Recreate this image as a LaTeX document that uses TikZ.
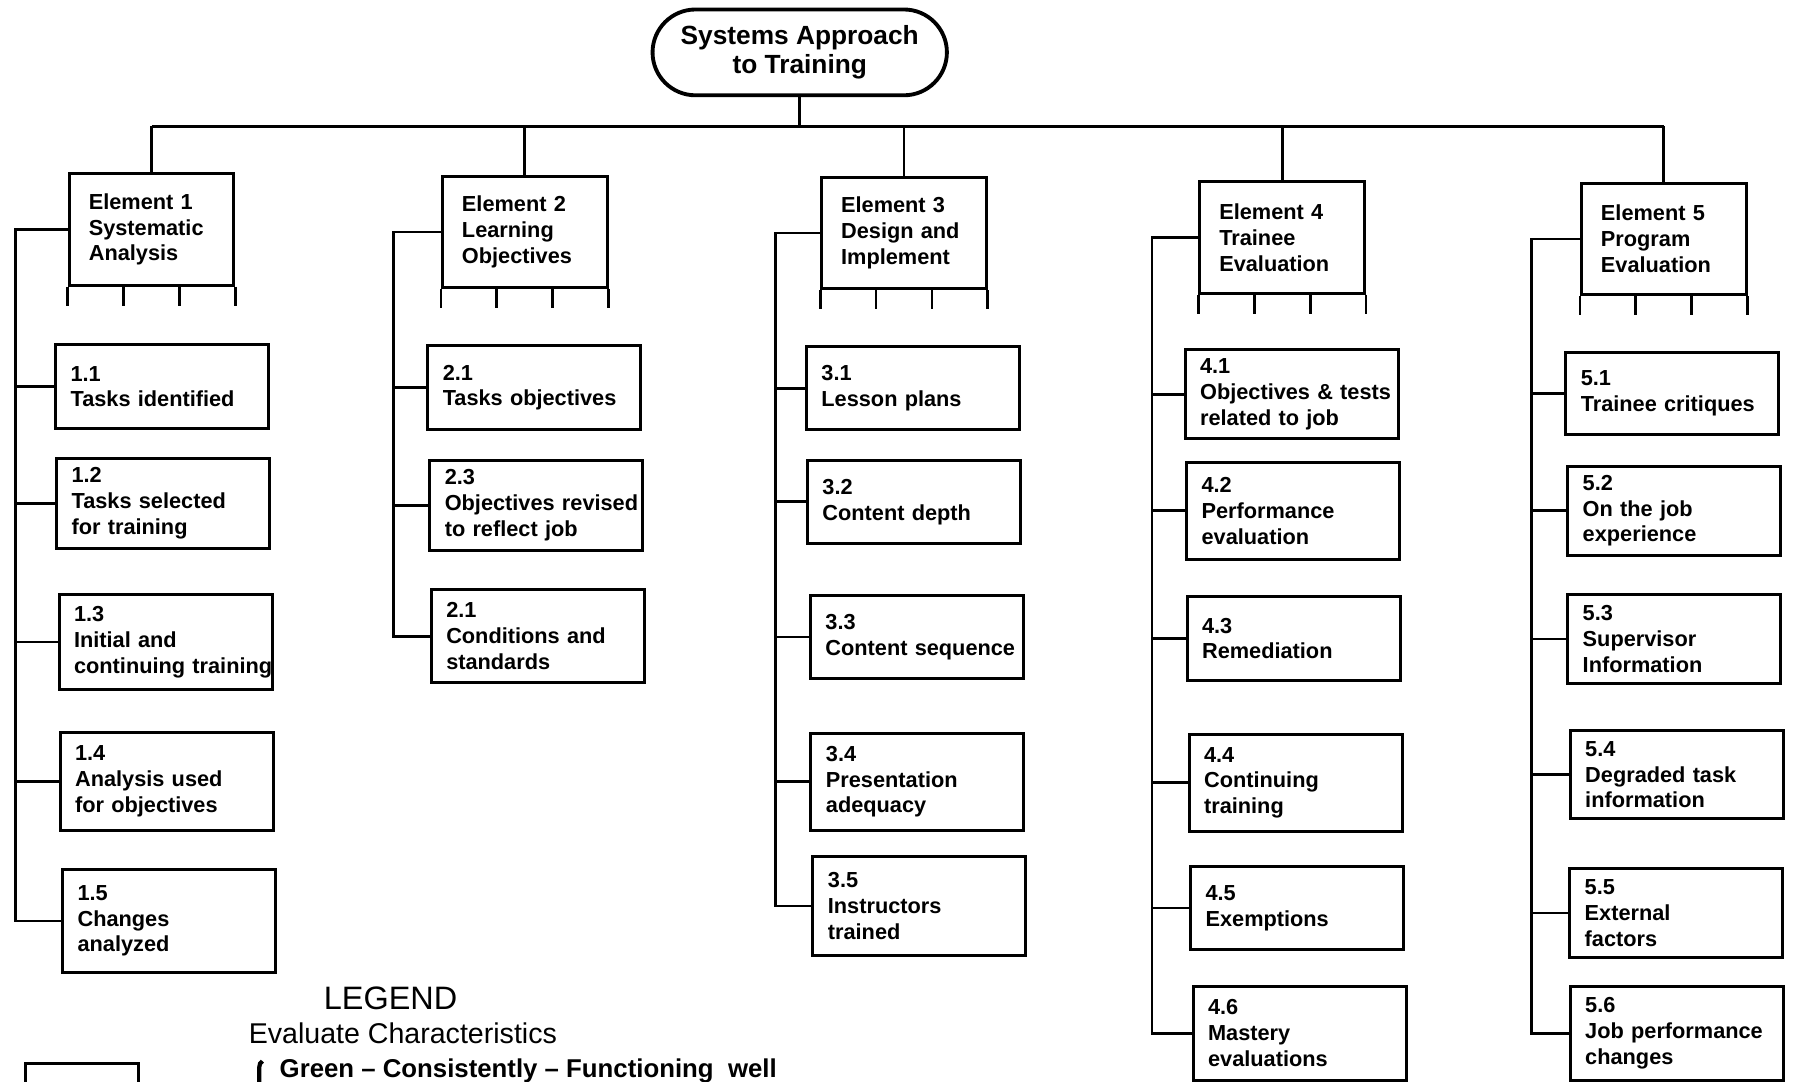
\documentclass[tikz,border=0pt]{standalone}
\usepackage{fontspec}
\setmainfont{Liberation Sans}
\usetikzlibrary{calc,decorations.pathreplacing}

\begin{document}
\begin{tikzpicture}[
    rootbox/.style={draw=black, line width=2.2pt, rounded corners=0.86cm, minimum width=5.9cm, minimum height=1.72cm, align=center, font=\bfseries\fontsize{15}{16.5}\selectfont},
    elembox/.style={draw=black, line width=1.7pt, text width=2.52cm, inner xsep=0.39cm, minimum height=2.23cm, align=left, font=\bfseries\fontsize{12.4}{14.7}\selectfont},
    subbox/.style={draw=black, line width=1.7pt, text width=3.67cm, inner xsep=0.3cm, align=left, font=\bfseries\fontsize{12.4}{14.7}\selectfont},
    link/.style={line width=1.6pt}
]

\useasboundingbox (0,0) rectangle (36,-21.67);
\clip (0,0) rectangle (36,-21.67);

% Root
\node[rootbox] (root) at (16.03,-1.05) {Systems Approach\\to Training};

% Elements
\node[elembox] (e1) at (3.04,-4.60) {Element 1\\Systematic\\Analysis};
\node[elembox] (e2) at (10.52,-4.65) {Element 2\\Learning\\Objectives};
\node[elembox] (e3) at (18.12,-4.67) {Element 3\\Design and\\Implement};
\node[elembox] (e4) at (25.70,-4.76) {Element 4\\Trainee\\Evaluation};
\node[elembox] (e5) at (33.35,-4.79) {Element 5\\Program\\Evaluation};

% Sub-elements
\node[subbox, minimum height=1.68cm] (c11) at (3.25,-7.75) {1.1\\Tasks identified};
\node[subbox, minimum height=1.81cm] (c12) at (3.27,-10.09) {1.2\\Tasks selected\\for training};
\node[subbox, minimum height=1.91cm] (c13) at (3.32,-12.87) {1.3\\Initial and\\\mbox{continuing training}};
\node[subbox, minimum height=1.97cm] (c14) at (3.34,-15.66) {1.4\\Analysis used\\for objectives};
\node[subbox, minimum height=2.07cm] (c15) at (3.39,-18.46) {1.5\\Changes\\analyzed};

\node[subbox, minimum height=1.68cm] (c21) at (10.71,-7.77) {2.1\\Tasks objectives};
\node[subbox, minimum height=1.79cm] (c22) at (10.75,-10.13) {2.3\\\mbox{Objectives revised}\\to reflect job};
\node[subbox, minimum height=1.86cm] (c23) at (10.78,-12.75) {2.1\\Conditions and\\standards};

\node[subbox, minimum height=1.65cm] (c31) at (18.30,-7.78) {3.1\\Lesson plans};
\node[subbox, minimum height=1.65cm] (c32) at (18.32,-10.06) {3.2\\Content depth};
\node[subbox, minimum height=1.65cm] (c33) at (18.38,-12.77) {3.3\\\mbox{Content sequence}};
\node[subbox, minimum height=1.95cm] (c34) at (18.39,-15.67) {3.4\\Presentation\\adequacy};
\node[subbox, minimum height=1.97cm] (c35) at (18.43,-18.16) {3.5\\Instructors\\trained};

\node[subbox, minimum height=1.79cm] (c41) at (25.89,-7.90) {4.1\\\mbox{Objectives \& tests}\\related to job};
\node[subbox, minimum height=1.93cm] (c42) at (25.92,-10.24) {4.2\\Performance\\evaluation};
\node[subbox, minimum height=1.68cm] (c43) at (25.93,-12.80) {4.3\\Remediation};
\node[subbox, minimum height=1.95cm] (c44) at (25.97,-15.69) {4.4\\Continuing\\training};
\node[subbox, minimum height=1.68cm] (c45) at (26.00,-18.20) {4.5\\Exemptions};
\node[subbox, minimum height=1.88cm] (c46) at (26.05,-20.71) {4.6\\Mastery\\evaluations};

\node[subbox, minimum height=1.63cm] (c51) at (33.52,-7.89) {5.1\\Trainee critiques};
\node[subbox, minimum height=1.79cm] (c52) at (33.56,-10.24) {5.2\\On the job\\experience};
\node[subbox, minimum height=1.77cm] (c53) at (33.56,-12.81) {5.3\\Supervisor\\Information};
\node[subbox, minimum height=1.77cm] (c54) at (33.61,-15.53) {5.4\\Degraded task\\information};
\node[subbox, minimum height=1.79cm] (c55) at (33.60,-18.30) {5.5\\External\\factors};
\node[subbox, minimum height=1.88cm] (c56) at (33.61,-20.71) {5.6\\Job performance\\changes};

% Connectors from the root
\coordinate (bus) at (0,-2.53);
\draw[link] (root.south) -- (root.south |- bus);
\draw[link] (e1.north |- bus) -- (e5.north |- bus);
\foreach \e in {e1,e2,e3,e4,e5}
    \draw[link] (\e.north |- bus) -- (\e.north);

% Ticks under the elements
\foreach \e in {e1,e2,e3,e4,e5}
    \foreach \k in {0,1,2,3}
        \draw[link] ($(\e.south west)!\k/3!(\e.south east)$) -- ++(0,-0.38);

% Trunks down to the sub-elements
\foreach \e/\last/\off in {e1/c15/1.05, e2/c23/0.95, e3/c35/0.90, e4/c46/0.93, e5/c56/0.98}
    \draw[link] (\e.west) -- ++(-\off,0) coordinate (t\e) |- (\last.west);

\foreach \c/\e in {c11/e1, c12/e1, c13/e1, c14/e1,
                   c21/e2, c22/e2,
                   c31/e3, c32/e3, c33/e3, c34/e3,
                   c41/e4, c42/e4, c43/e4, c44/e4, c45/e4,
                   c51/e5, c52/e5, c53/e5, c54/e5, c55/e5}
    \draw[link] (\c.west) -- (\c.west -| t\e);

% Legend
\node[font=\fontsize{18.5}{20}\selectfont, anchor=base] (legend) at (7.83,-20.23) {LEGEND};
\node[font=\fontsize{16.3}{18}\selectfont, anchor=base west, inner xsep=0pt] (evalc) at (4.98,-20.91) {Evaluate Characteristics};
\node[font=\bfseries\fontsize{14.7}{16}\selectfont, anchor=base west, inner xsep=0pt] (green) at (5.60,-21.60) {Green – Consistently – Functioning\ \ well};
\draw[line width=2.4pt, decorate, decoration={brace, amplitude=0.13cm}] (5.26,-23.5) -- (5.26,-21.27);
\draw[line width=1.7pt] (0.51,-23) rectangle (2.78,-21.31);

\end{tikzpicture}
\end{document}
